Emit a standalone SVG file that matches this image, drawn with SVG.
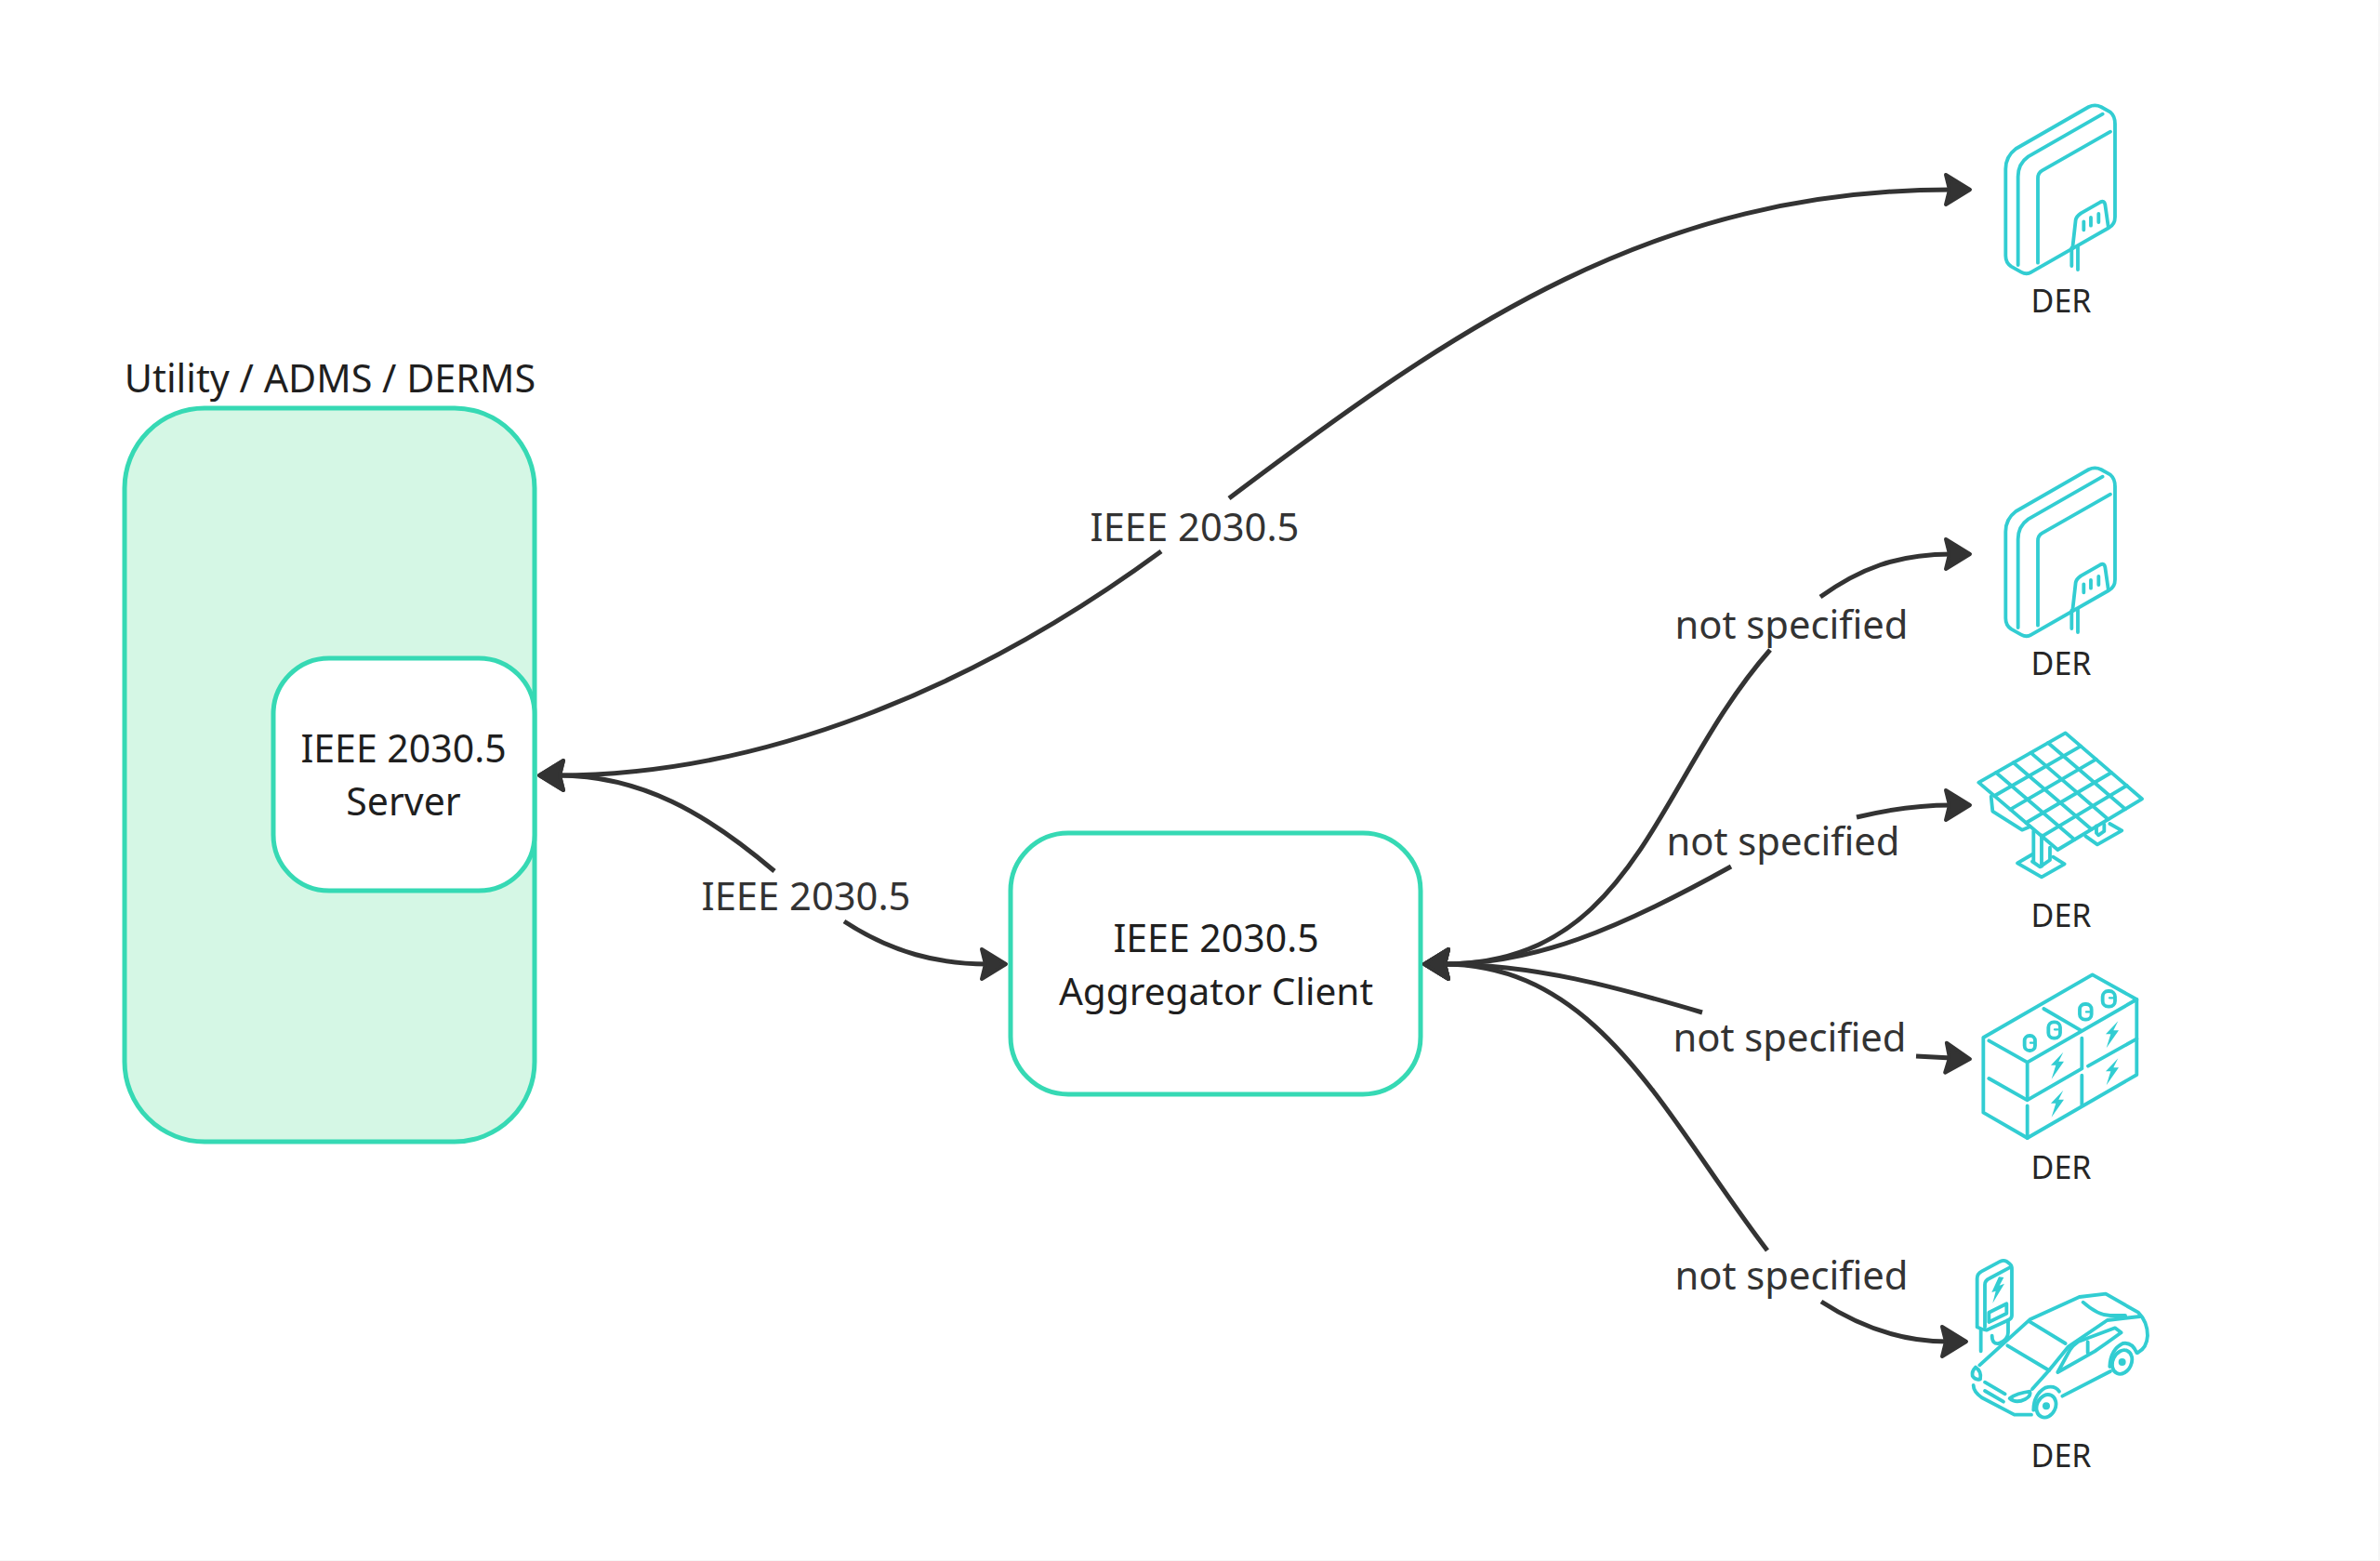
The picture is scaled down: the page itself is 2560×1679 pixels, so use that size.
<svg xmlns="http://www.w3.org/2000/svg" width="2560" height="1679" viewBox="0 0 2560 1679">
<style>
text{font-family:"Noto Sans","Open Sans",sans-serif;text-anchor:middle}
.box{stroke:#36d9b4;stroke-width:5;fill:#fff}
.nt{font-size:41px;fill:#1f1f1f}
.el{font-size:41.7px;fill:#333}
.der{font-size:34px;fill:#262626}
.cn{fill:none;stroke:#333;stroke-width:5;marker-start:url(#ah);marker-end:url(#ah)}
.ic{fill:none;stroke:#32cdd2;stroke-width:11.5;stroke-linecap:round;stroke-linejoin:round}
.bf{fill:#32cdd2;stroke:none}
</style>
<defs>
<marker id="ah" markerUnits="userSpaceOnUse" markerWidth="40" markerHeight="40" refX="6" refY="0" orient="auto-start-reverse" overflow="visible">
<path d="M0,-16 L26,0 L0,16 L4,0 Z" fill="#333" stroke="#333" stroke-width="4" stroke-linejoin="round"/>
</marker>
<g id="inverter" class="ic">
<path d="M205,210 L440,75 Q460,65 480,75 L510,92 Q525,105 525,130 L525,430 Q525,455 505,465 L255,608 Q240,618 222,608 L190,590 Q172,578 172,555 L172,275 Q172,235 205,210 Z"/>
<path d="M485,98 L245,235 Q212,258 212,300 L212,585"/>
<path d="M510,155 L290,280 Q276,288 276,305 L276,578"/>
<path d="M388,530 L398,440 Q400,428 415,418 L478,382 Q490,376 493,390 L503,460"/>
<path d="M424,445 V472 M447,432 V458 M472,420 V447"/>
<path d="M385,530 V588 M405,525 V600"/>
</g>
</defs>
<rect width="2560" height="1679" fill="#f6f6f6"/>
<rect width="2558" height="1678" fill="#fff"/>

<g id="utility">
<rect class="box" x="134" y="439" width="441" height="789" rx="86" style="fill:#d5f7e5"/>
<text class="nt" x="355" y="422" style="font-size:41.3px">Utility / ADMS / DERMS</text>
</g>
<g id="server">
<rect class="box" x="294" y="708" width="281" height="250" rx="60"/>
<text class="nt" x="434" y="820">IEEE 2030.5</text>
<text class="nt" x="434" y="877">Server</text>
</g>
<g id="aggregator">
<rect class="box" x="1087" y="896" width="441" height="281" rx="62"/>
<text class="nt" x="1308" y="1024">IEEE 2030.5</text>
<text class="nt" x="1308" y="1081" style="font-size:40.6px">Aggregator Client</text>
</g>

<g id="connectors">
<path class="cn" d="M600,834 C816,834 1045,743 1249,593 M1322,536 C1567,351 1780,204 2099,204"/>
<path class="cn" d="M600,834 C690,834 760,875 833,937 M908,991 C960,1025 1010,1037 1062,1037"/>
<path class="cn" d="M1552,1037 C1760,1037 1780,840 1904,699 M1958,642 C2000,612 2040,596 2099,596"/>
<path class="cn" d="M1552,1037 C1650,1037 1740,1000 1862,932 M1997,879 C2030,871 2060,866 2099,866"/>
<path class="cn" d="M1552,1037 C1650,1037 1740,1062 1831,1089 M2061,1136 L2099,1138"/>
<path class="cn" d="M1552,1037 C1720,1037 1790,1200 1901,1345 M1959,1400 C2005,1430 2050,1443 2095,1443"/>
<text class="el" x="1285" y="582">IEEE 2030.5</text>
<text class="el" x="867" y="979">IEEE 2030.5</text>
<text class="el" x="1927" y="687">not specified</text>
<text class="el" x="1918" y="920">not specified</text>
<text class="el" x="1925" y="1131">not specified</text>
<text class="el" x="1927" y="1387">not specified</text>
</g>

<g id="der1">
<use href="#inverter" transform="translate(2100,90) scale(.3333)"/>
<text class="der" x="2217" y="336">DER</text>
</g>
<g id="der2">
<use href="#inverter" transform="translate(2100,480) scale(.3333)"/>
<text class="der" x="2217" y="726">DER</text>
</g>
<g id="der3">
<g class="ic" transform="translate(2100,770) scale(.3333)">
<path d="M85,215 L365,55 L612,268 L340,432 Z"/>
<path d="M136,258 L414,98 M187,302 L464,140 M238,345 L513,183 M289,389 L563,225"/>
<path d="M141,183 L394,399 M197,151 L449,366 M253,119 L503,334 M309,87 L558,301"/>
<path d="M125,260 L130,308 L225,368 L250,358"/>
<path d="M262,372 V470 M288,385 V485"/>
<path d="M258,447 L210,475 L288,520 L362,478 L325,455"/>
<path d="M258,470 L283,487 L315,465 V425"/>
<path d="M465,355 V378 L472,385 L490,372 V350"/>
<path d="M430,388 L468,415 L547,370 L508,348"/>
</g>
<text class="der" x="2217" y="997">DER</text>
</g>
<g id="der4">
<g class="ic" transform="translate(2110,1030) scale(.3333)">
<path d="M70,258 L422,55 L565,135 V378 L212,582 L70,500 Z"/>
<path d="M88,268 L212,338 L565,135 M212,338 V455 M212,478 V582"/>
<path d="M265,165 L385,235 M388,260 V355 M388,380 V475"/>
<path d="M215,458 L388,358 M408,350 L565,262 M88,390 L212,460"/>
<rect x="203" y="252" width="34" height="48" rx="16"/>
<rect x="280" y="208" width="38" height="52" rx="17"/>
<rect x="381" y="150" width="38" height="50" rx="17"/>
<rect x="455" y="108" width="40" height="50" rx="18"/>
<path d="M222,275 H232 M300,232 H310 M402,175 H412 M477,130 H488" style="stroke-width:7"/>
<path class="bf" d="M328,305 L288,347 L304,347 L290,392 L330,335 L313,335 Z"/>
<path class="bf" d="M505,205 L465,247 L481,247 L467,292 L507,235 L490,235 Z"/>
<path class="bf" d="M328,428 L288,470 L304,470 L290,515 L330,458 L313,458 Z"/>
<path class="bf" d="M505,325 L465,367 L481,367 L467,412 L507,355 L490,355 Z"/>
</g>
<text class="der" x="2217" y="1268">DER</text>
</g>
<g id="der5">
<g class="ic" transform="translate(2100,1340) scale(.3333)">
<path d="M80,262 L80,105 Q80,90 95,82 L155,50 Q165,45 175,50 L185,58 Q192,62 192,75 L192,225 Q192,235 180,240 L110,272 Q95,270 80,262"/>
<path d="M105,262 L105,125 Q105,112 120,105 L185,70"/>
<path class="bf" d="M150,100 L127,150 L140,146 L130,185 L168,122 L152,128 L166,102 Z"/>
<path d="M118,215 L175,187 V218 L118,246 Z"/>
<path d="M180,240 V280 Q180,305 150,315 Q128,318 128,290 M92,270 V340"/>
<path d="M88,385 L250,238 L410,165 L495,155 L600,215 Q630,245 630,290 Q628,330 598,345"/>
<path d="M250,245 L365,315 M178,322 L312,402 L258,462"/>
<path d="M340,408 L380,335 Q390,320 405,310 L525,265 L545,280 Q490,320 460,340 Z M437,310 V345"/>
<path d="M312,402 L375,325 L500,240 L605,228 M422,182 Q470,225 510,225 L558,225"/>
<path d="M355,485 L510,405"/>
<ellipse cx="303" cy="517" rx="30" ry="38" transform="rotate(25 303 517)"/>
<path d="M262,530 Q262,480 300,458 Q330,448 345,470"/>
<circle class="bf" cx="303" cy="517" r="12"/>
<ellipse cx="548" cy="375" rx="30" ry="40" transform="rotate(25 548 375)"/>
<path d="M508,390 Q510,335 550,315 Q580,310 595,345"/>
<circle class="bf" cx="548" cy="375" r="12"/>
<path d="M68,450 Q68,470 95,490 L200,545 L255,545"/>
<path d="M75,392 Q62,405 65,420 Q75,435 90,430 Q95,405 75,392"/>
<path d="M105,440 L170,478 M105,468 L165,503"/>
<path d="M185,492 Q210,475 250,470 Q255,485 235,495 Q205,510 185,492 Z"/>
</g>
<text class="der" x="2217" y="1578">DER</text>
</g>
</svg>
